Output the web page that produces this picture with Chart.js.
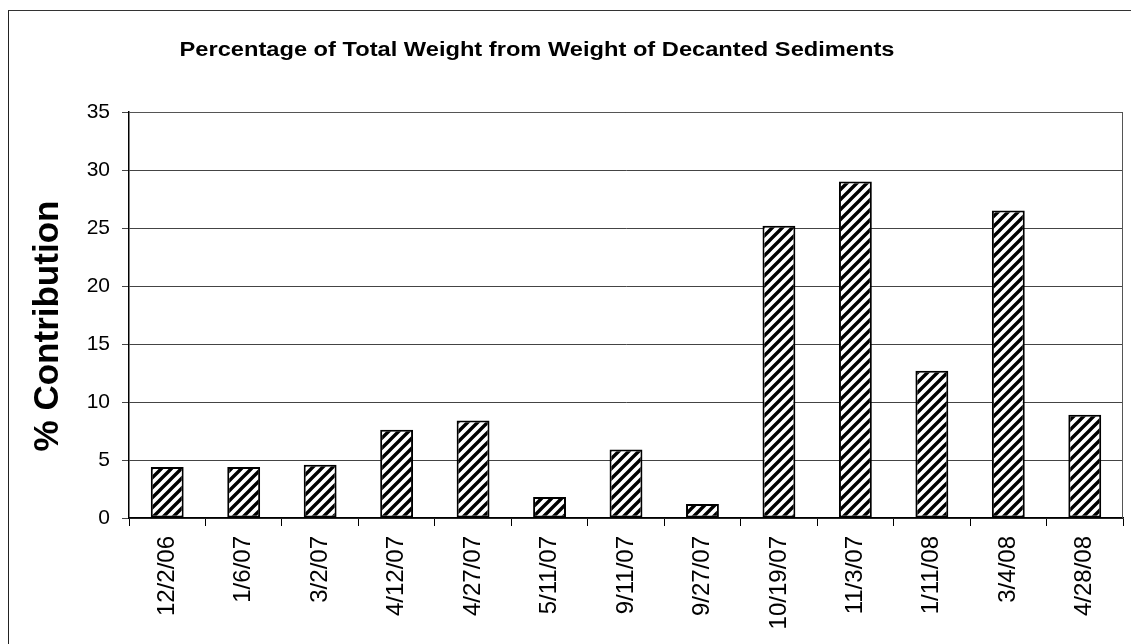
<!DOCTYPE html>
<html>
<head>
<meta charset="utf-8">
<script src="https://cdn.jsdelivr.net/npm/chart.js@4"></script>
<style>
  html, body { margin: 0; padding: 0; background: #fff; }
  #wrap { position: relative; width: 1131px; height: 644px; overflow: hidden; }
  #frame {
    position: absolute; left: 8px; top: 10px; width: 1200px; height: 700px;
    border-left: 1.5px solid #222; border-top: 1.5px solid #333;
  }
  #sediments { position: absolute; left: 0; top: 0; }
</style>
</head>
<body>
<div id="wrap">
  <div id="frame"></div>
  <canvas id="sediments" width="1131" height="644"></canvas>
</div>
<script>
const sampleDates = ['12/2/06', '1/6/07', '3/2/07', '4/12/07', '4/27/07', '5/11/07', '9/11/07',
  '9/27/07', '10/19/07', '11/3/07', '1/11/08', '3/4/08', '4/28/08'];
const contribution = [4.4, 4.4, 4.6, 7.6, 8.4, 1.8, 5.9, 1.2, 25.2, 29.0, 12.7, 26.5, 8.9];
const yTicks = [0, 5, 10, 15, 20, 25, 30, 35];

const chartTitle = 'Percentage of Total Weight from Weight of Decanted Sediments';
const yTitle = '% Contribution';

const FONT = "'Liberation Sans', Arial, sans-serif";

// diagonal hatch fill for the bars
function hatch() {
  const size = 10;
  const c = document.createElement('canvas');
  c.width = size;
  c.height = size;
  const g = c.getContext('2d');
  g.fillStyle = '#fff';
  g.fillRect(0, 0, size, size);
  g.strokeStyle = '#000';
  g.lineWidth = 3.4;
  g.beginPath();
  g.moveTo(-2, size + 2); g.lineTo(size + 2, -2);
  g.moveTo(-3, 3); g.lineTo(3, -3);
  g.moveTo(size - 3, size + 3); g.lineTo(size + 3, size - 3);
  g.stroke();
  return g.createPattern(c, 'repeat');
}

// plot border (top and right) plus the two titles
const decorations = {
  id: 'decorations',
  afterDraw(chart) {
    const { ctx, chartArea: a } = chart;
    ctx.save();
    ctx.strokeStyle = '#555';
    ctx.lineWidth = 1;
    ctx.beginPath();
    ctx.moveTo(a.left, a.top + 0.5);
    ctx.lineTo(a.right - 0.5, a.top + 0.5);
    ctx.lineTo(a.right - 0.5, a.bottom);
    ctx.stroke();

    ctx.fillStyle = '#000';
    ctx.textAlign = 'center';
    ctx.textBaseline = 'middle';

    // chart title, widened a little to span 180..895
    ctx.font = 'bold 20px ' + FONT;
    const w = ctx.measureText(chartTitle).width;
    ctx.save();
    ctx.translate(537, 50);
    ctx.scale(715 / w, 1);
    ctx.fillText(chartTitle, 0, 0);
    ctx.restore();

    // vertical axis title
    ctx.font = 'bold 35px ' + FONT;
    ctx.save();
    ctx.translate(48, 326);
    ctx.rotate(-Math.PI / 2);
    ctx.fillText(yTitle, 0, 0);
    ctx.restore();

    ctx.restore();
  }
};

const ctx = document.getElementById('sediments').getContext('2d');
new Chart(ctx, {
  type: 'bar',
  data: {
    labels: sampleDates,
    datasets: [{
      data: contribution,
      backgroundColor: hatch(),
      borderColor: '#000',
      borderWidth: 2,
      borderSkipped: false,
      categoryPercentage: 1,
      barPercentage: 0.43
    }]
  },
  plugins: [decorations],
  options: {
    responsive: false,
    animation: false,
    layout: { padding: { left: 0, right: 8, top: 112, bottom: 0 } },
    plugins: {
      legend: { display: false },
      tooltip: { enabled: false },
      title: { display: false }
    },
    scales: {
      x: {
        afterFit: (scale) => { scale.height = 126; },
        grid: {
          offset: true,
          drawOnChartArea: false,
          drawTicks: true,
          tickLength: 8,
          color: '#000'
        },
        border: { color: '#000', width: 1.5 },
        ticks: {
          color: '#000',
          minRotation: 90,
          maxRotation: 90,
          padding: 10,
          font: { family: FONT, size: 24 }
        }
      },
      y: {
        min: 0,
        max: 35,
        afterFit: (scale) => { scale.width = 129; },
        afterBuildTicks: (scale) => { scale.ticks = yTicks.map(v => ({ value: v })); },
        grid: {
          color: '#444',
          lineWidth: 1,
          tickLength: 7
        },
        border: { color: '#000', width: 1.5 },
        ticks: {
          color: '#000',
          padding: 12,
          font: { family: FONT, size: 21 }
        }
      }
    }
  }
});
</script>
</body>
</html>
